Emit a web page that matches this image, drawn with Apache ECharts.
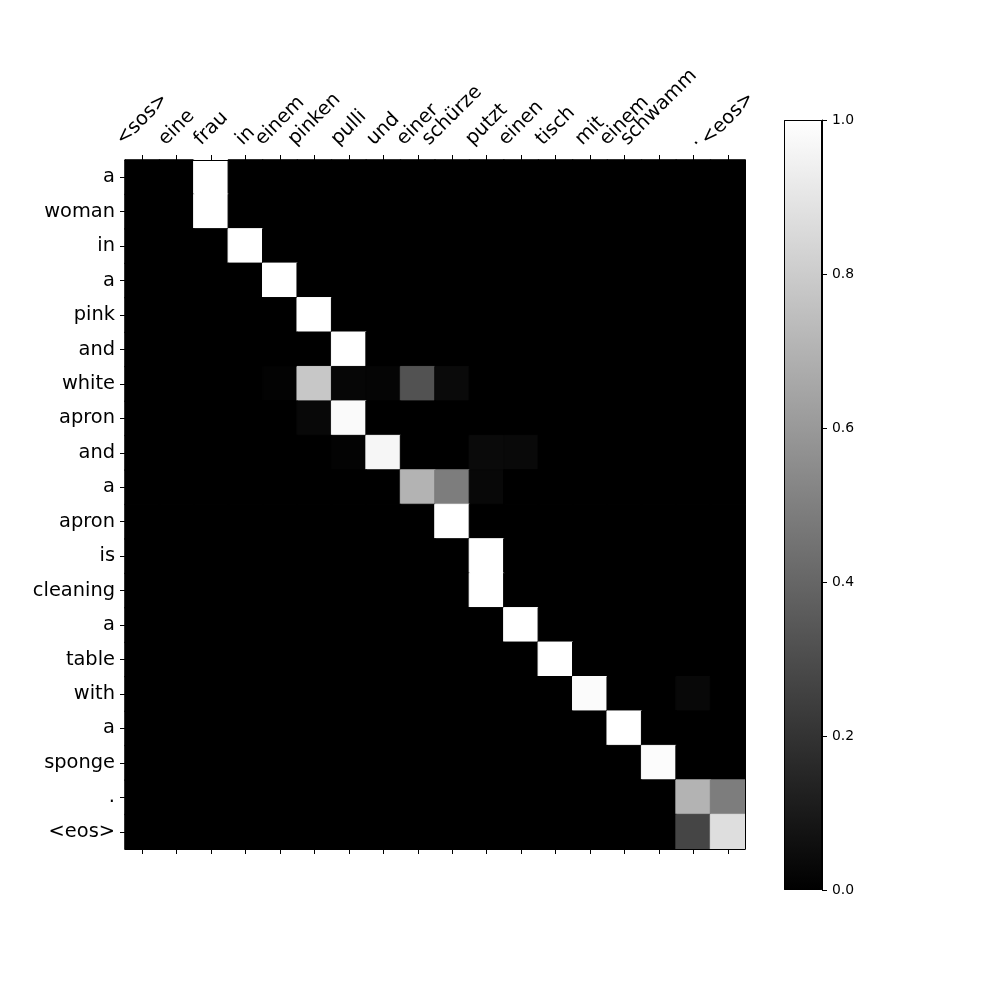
<!DOCTYPE html>
<html>
<head>
<meta charset="utf-8">
<script src="https://cdn.jsdelivr.net/npm/echarts@6/dist/echarts.min.js"></script>
<style>
  body { margin: 0; background: #ffffff; }
  #attnChart { width: 1000px; height: 1000px; }
</style>
</head>
<body>
<div id="attnChart"></div>
<script>
// 源句 (德语) 和 目标句 (英语)
var srcTokens = ["<sos>", "eine", "frau", "in", "einem", "pinken", "pulli", "und", "einer",
  "schürze", "putzt", "einen", "tisch", "mit", "einem", "schwamm", ".", "<eos>"];
var trgTokens = ["a", "woman", "in", "a", "pink", "and", "white", "apron", "and", "a",
  "apron", "is", "cleaning", "a", "table", "with", "a", "sponge", ".", "<eos>"];
var colorbarTicks = [0, 0.2, 0.4, 0.6, 0.8, 1.0];

// 注意力权重, 每行一个目标词
var attention = [
  [0, 0, 1.0, 0, 0, 0, 0, 0, 0, 0, 0, 0, 0, 0, 0, 0, 0, 0],
  [0, 0, 1.0, 0, 0, 0, 0, 0, 0, 0, 0, 0, 0, 0, 0, 0, 0, 0],
  [0, 0, 0, 1.0, 0, 0, 0, 0, 0, 0, 0, 0, 0, 0, 0, 0, 0, 0],
  [0, 0, 0, 0, 1.0, 0, 0, 0, 0, 0, 0, 0, 0, 0, 0, 0, 0, 0],
  [0, 0, 0, 0, 0, 1.0, 0, 0, 0, 0, 0, 0, 0, 0, 0, 0, 0, 0],
  [0, 0, 0, 0, 0, 0, 1.0, 0, 0, 0, 0, 0, 0, 0, 0, 0, 0, 0],
  [0, 0, 0, 0, 0.01, 0.78, 0.025, 0.02, 0.32, 0.04, 0, 0, 0, 0, 0, 0, 0, 0],
  [0, 0, 0, 0, 0, 0.03, 0.98, 0, 0, 0, 0, 0, 0, 0, 0, 0, 0, 0],
  [0, 0, 0, 0, 0, 0, 0.01, 0.965, 0, 0, 0.04, 0.035, 0, 0, 0, 0, 0, 0],
  [0, 0, 0, 0, 0, 0, 0, 0, 0.70, 0.49, 0.03, 0, 0, 0, 0, 0, 0, 0],
  [0, 0, 0, 0, 0, 0, 0, 0, 0, 1.0, 0, 0, 0, 0, 0, 0, 0, 0],
  [0, 0, 0, 0, 0, 0, 0, 0, 0, 0, 1.0, 0, 0, 0, 0, 0, 0, 0],
  [0, 0, 0, 0, 0, 0, 0, 0, 0, 0, 1.0, 0, 0, 0, 0, 0, 0, 0],
  [0, 0, 0, 0, 0, 0, 0, 0, 0, 0, 0, 1.0, 0, 0, 0, 0, 0, 0],
  [0, 0, 0, 0, 0, 0, 0, 0, 0, 0, 0, 0, 1.0, 0, 0, 0, 0, 0],
  [0, 0, 0, 0, 0, 0, 0, 0, 0, 0, 0, 0, 0, 0.985, 0, 0, 0.03, 0],
  [0, 0, 0, 0, 0, 0, 0, 0, 0, 0, 0, 0, 0, 0, 1.0, 0, 0, 0],
  [0, 0, 0, 0, 0, 0, 0, 0, 0, 0, 0, 0, 0, 0, 0, 0.99, 0, 0],
  [0, 0, 0, 0, 0, 0, 0, 0, 0, 0, 0, 0, 0, 0, 0, 0, 0.70, 0.49],
  [0, 0, 0, 0, 0, 0, 0, 0, 0, 0, 0, 0, 0, 0, 0, 0, 0.27, 0.87]
];

// 灰度色: 0 黑 -> 1 白
var grayOf = function (v) {
  var g = Math.round(Math.max(0, Math.min(1, v)) * 255);
  return "rgb(" + g + "," + g + "," + g + ")";
};

var initAttnChart = function () {
  var heatData = [];
  for (var r = 0; r < attention.length; r++) {
    for (var c = 0; c < attention[r].length; c++) {
      var col = grayOf(attention[r][c]);
      // 边框同色, 盖住相邻格子之间的缝
      heatData.push({
        value: [c, r, attention[r][c]],
        itemStyle: { color: col, borderColor: col, borderWidth: 1 }
      });
    }
  }
  var labelFont = "DejaVu Sans";
  var labelSize = 19.4;
  var tickStyle = { show: true, length: 5, alignWithLabel: true, interval: 0,
    lineStyle: { color: "#000", width: 1 } };
  var lineStyle = { show: true, lineStyle: { color: "#000", width: 1 } };

  var myChart = echarts.init(document.getElementById("attnChart"));
  var chartOptions = {
    backgroundColor: "#ffffff",
    animation: false,
    grid: [
      { left: 125, top: 160, width: 620, height: 689 },
      { left: 784, top: 120, width: 38, height: 770 }
    ],
    xAxis: [
      {
        type: "category", gridIndex: 0, position: "top", data: srcTokens, z: 10,
        axisLine: lineStyle, axisTick: tickStyle,
        axisLabel: { show: false }, splitLine: { show: false }
      },
      {
        type: "category", gridIndex: 0, position: "bottom", data: srcTokens, z: 10,
        axisLine: lineStyle, axisTick: tickStyle,
        axisLabel: { show: false }, splitLine: { show: false }
      },
      {
        type: "category", gridIndex: 1, data: [""], show: false
      }
    ],
    yAxis: [
      {
        type: "category", gridIndex: 0, position: "left", data: trgTokens, inverse: true, z: 10,
        axisLine: lineStyle, axisTick: tickStyle,
        axisLabel: { interval: 0, margin: 10, color: "#000", fontFamily: labelFont, fontSize: labelSize },
        splitLine: { show: false }
      },
      {
        type: "category", gridIndex: 0, position: "right", data: trgTokens, inverse: true, z: 10,
        axisLine: lineStyle, axisTick: { show: false }, axisLabel: { show: false },
        splitLine: { show: false }
      },
      {
        type: "value", gridIndex: 1, position: "right", min: 0, max: 1, interval: 0.2, z: 10,
        axisLine: lineStyle,
        axisTick: { show: true, length: 5, lineStyle: { color: "#000", width: 1 } },
        axisLabel: {
          margin: 10, color: "#000", fontFamily: labelFont, fontSize: 13.9,
          formatter: function (v) {
            return colorbarTicks.indexOf(Math.round(v * 10) / 10) >= 0 ? v.toFixed(1) : "";
          }
        },
        splitLine: { show: false }
      }
    ],
    series: [
      {
        type: "heatmap",
        xAxisIndex: 0,
        yAxisIndex: 0,
        data: heatData,
        emphasis: { disabled: true }
      },
      {
        // 颜色条
        type: "bar",
        xAxisIndex: 2,
        yAxisIndex: 2,
        barWidth: "100%",
        data: [1],
        silent: true,
        itemStyle: {
          borderColor: "#000",
          borderWidth: 1,
          color: new echarts.graphic.LinearGradient(0, 0, 0, 1, [
            { offset: 0, color: "#ffffff" },
            { offset: 1, color: "#000000" }
          ])
        }
      }
    ]
  };
  myChart.setOption(chartOptions);

  // 顶部旋转标签: 按 matplotlib 方式, 旋转后外框居中于刻度
  var ctx = document.createElement("canvas").getContext("2d");
  ctx.font = labelSize + 'px "' + labelFont + '"';
  var s = Math.SQRT1_2;
  var textH = labelSize * 1.164;
  var axisTop = 160;
  var graphics = [];
  for (var i = 0; i < srcTokens.length; i++) {
    var w = ctx.measureText(srcTokens[i]).width;
    var px = myChart.convertToPixel({ xAxisIndex: 0 }, i);
    var boxH = (w + textH) * s;
    graphics.push({
      type: "text",
      x: px,
      y: axisTop - 9.7 - boxH / 2,
      rotation: Math.PI / 4,
      style: {
        text: srcTokens[i],
        font: labelSize + 'px "' + labelFont + '"',
        fill: "#000",
        align: "center",
        verticalAlign: "middle"
      }
    });
  }
  myChart.setOption({ graphic: graphics });
};
initAttnChart();
</script>
</body>
</html>
